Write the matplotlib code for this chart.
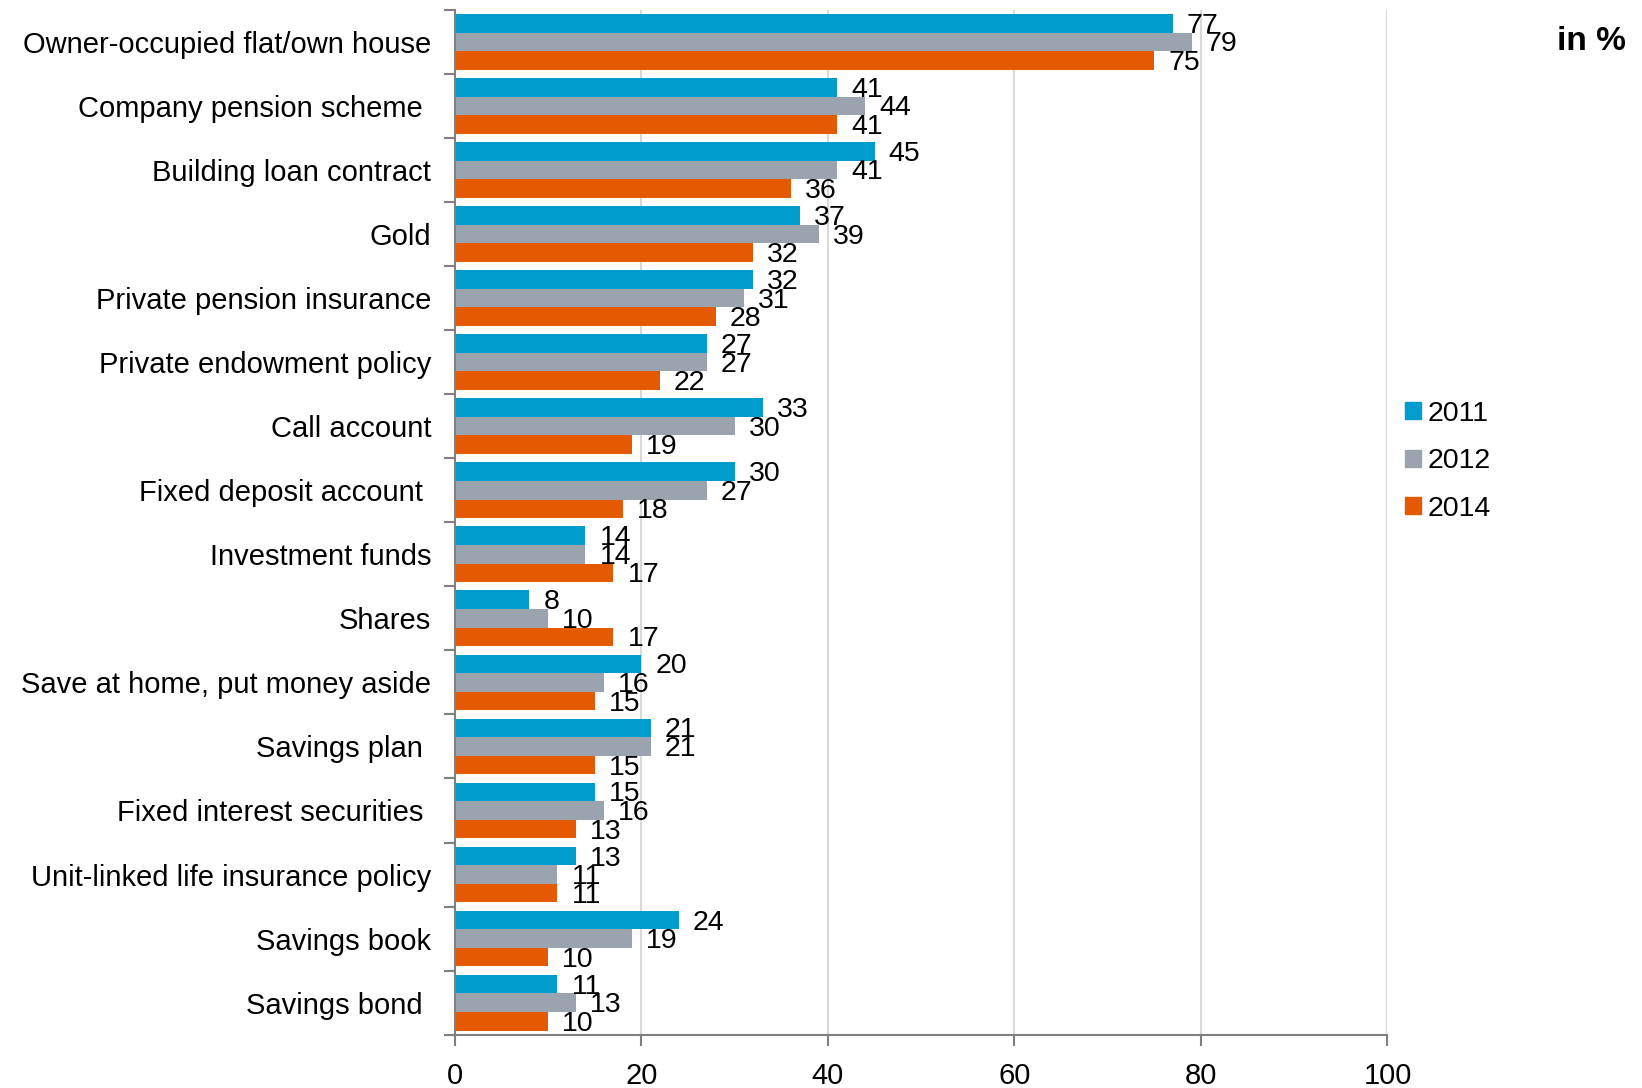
import matplotlib.pyplot as plt
import numpy as np

plt.rcParams['font.family'] = ['Liberation Sans', 'DejaVu Sans']

categories = [
    "Owner-occupied flat/own house", "Company pension scheme ", "Building loan contract",
    "Gold", "Private pension insurance", "Private endowment policy", "Call account",
    "Fixed deposit account ", "Investment funds", "Shares",
    "Save at home, put money aside", "Savings plan ", "Fixed interest securities ",
    "Unit-linked life insurance policy", "Savings book", "Savings bond ",
]
years = ["2011", "2012", "2014"]
vals_2011 = [77, 41, 45, 37, 32, 27, 33, 30, 14, 8, 20, 21, 15, 13, 24, 11]
vals_2012 = [79, 44, 41, 39, 31, 27, 30, 27, 14, 10, 16, 21, 16, 11, 19, 13]
vals_2014 = [75, 41, 36, 32, 28, 22, 19, 18, 17, 17, 15, 15, 13, 11, 10, 10]
colors = ["#009CCD", "#9BA4AE", "#E55A00"]


def main() -> None:
    fig = plt.figure(figsize=(16.42, 10.88), dpi=100)
    ax = fig.add_axes([0.277, 0.049, 0.568, 0.942])

    n = len(categories)
    y = np.arange(n)
    h = 0.29
    series = [vals_2011, vals_2012, vals_2014]
    for k, (vals, col, yr) in enumerate(zip(series, colors, years)):
        pos = y + (k - 1) * h
        ax.barh(pos, vals, height=h, color=col, label=yr, zorder=2)
        for p, v in zip(pos, vals):
            ax.text(v + 1.5, p + 0.04, str(v), va="center", ha="left",
                    fontsize=20.5, color="black", zorder=3)

    ax.set_ylim(n - 0.5, -0.5)
    ax.set_xlim(0, 100)
    ax.set_xticks(range(0, 101, 20))
    ax.set_yticks(np.arange(-0.5, n, 1.0), minor=False)
    ax.set_yticklabels([])
    ax.set_yticks(y, minor=True)
    ax.set_yticklabels(categories, minor=True, fontsize=21)
    ax.tick_params(axis="y", which="minor", length=0, pad=17)
    ax.tick_params(axis="y", which="major", length=8, width=1.5, color="#808080")
    ax.tick_params(axis="x", length=8, width=1.5, color="#808080", labelsize=21, pad=12)
    ax.grid(axis="x", color="#D9D9D9", linewidth=1.5, zorder=0)
    ax.set_axisbelow(True)
    for s in ["top", "right"]:
        ax.spines[s].set_visible(False)
    for s in ["left", "bottom"]:
        ax.spines[s].set_color("#808080")
        ax.spines[s].set_linewidth(1.5)

    handles = [plt.Rectangle((0, 0), 1, 1, color=c) for c in colors]
    fig.legend(handles, years, loc="center left", bbox_to_anchor=(0.84, 0.576),
               frameon=False, fontsize=20.5, handlelength=0.55, handleheight=0.55,
               handletextpad=0.25, labelspacing=0.75)
    fig.text(0.99, 0.962, "in %", ha="right", va="center", fontsize=24,
             fontweight="bold")

    fig.savefig("out.png", dpi=100)


if __name__ == "__main__":
    main()
